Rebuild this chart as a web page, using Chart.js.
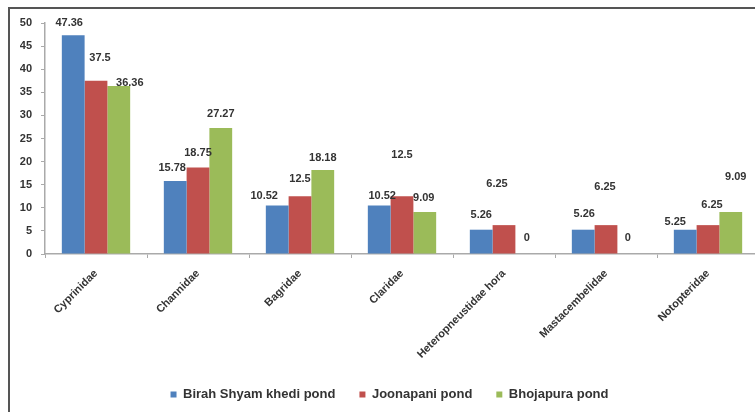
<!DOCTYPE html>
<html>
<head>
<meta charset="utf-8">
<script src="https://cdn.jsdelivr.net/npm/chart.js@4.4.1/dist/chart.umd.min.js"></script>
<style>
  body { margin: 0; background: #fff; }
  #wrap { position: relative; width: 755px; height: 412px; overflow: hidden; }
  #frame { position: absolute; left: 8px; top: 7px; width: 800px; height: 500px;
           border-left: 2px solid #555; border-top: 2px solid #555; pointer-events: none; }
  canvas { position: absolute; left: 0; top: 0; }
</style>
</head>
<body>
<div id="wrap">
  <canvas id="famChart" width="762" height="412"></canvas>
  <div id="frame"></div>
</div>
<script>
// families and percentage share in each pond
const families = ['Cyprinidae', 'Channidae', 'Bagridae', 'Claridae', 'Heteropneustidae hora', 'Mastacembelidae', 'Notopteridae'];
const birahValues = [47.36, 15.78, 10.52, 10.52, 5.26, 5.26, 5.25];
const joonapaniValues = [37.5, 18.75, 12.5, 12.5, 6.25, 6.25, 6.25];
const bhojapuraValues = [36.36, 27.27, 18.18, 9.09, 0, 0, 9.09];
const yTicks = [0, 5, 10, 15, 20, 25, 30, 35, 40, 45, 50];

// label nudges (px) so value labels sit like the original
const labelShift = [
  { dx: [-4, -3, -13, 3, 0, 1, -10], dy: [-12, -13, -9, -9, -15, -16, -8] },
  { dx: [4, 0, 0, 0, -7, -1, 4], dy: [-23, -14, -17, -41, -41, -38, -20] },
  { dx: [11, 0, 0, -1, 0, -1, 5], dy: [-3, -14, -12, -14, -16, -16, -35] }
];

const fontFam = "'Liberation Sans', Arial, sans-serif";
const textCol = '#333';
const axisCol = '#aaa';

const valueLabels = {
  id: 'valueLabels',
  afterDatasetsDraw(chart) {
    const ctx = chart.ctx;
    ctx.save();
    ctx.font = 'bold 11px ' + fontFam;
    ctx.fillStyle = textCol;
    ctx.textAlign = 'center';
    ctx.textBaseline = 'middle';
    chart.data.datasets.forEach((ds, i) => {
      chart.getDatasetMeta(i).data.forEach((bar, j) => {
        const s = labelShift[i];
        ctx.fillText(String(ds.data[j]), bar.x + s.dx[j], bar.y + s.dy[j]);
      });
    });
    ctx.restore();
  }
};

new Chart(document.getElementById('famChart'), {
  type: 'bar',
  data: {
    labels: families,
    datasets: [
      { label: 'Birah Shyam khedi pond', data: birahValues, backgroundColor: '#4F81BD' },
      { label: 'Joonapani pond', data: joonapaniValues, backgroundColor: '#C0504D' },
      { label: 'Bhojapura pond', data: bhojapuraValues, backgroundColor: '#9BBB59' }
    ]
  },
  options: {
    responsive: false,
    animation: false,
    layout: { padding: { top: 23, right: 3, bottom: 1, left: 20 } },
    datasets: { bar: { categoryPercentage: 0.67, barPercentage: 1 } },
    plugins: {
      tooltip: { enabled: false },
      legend: {
        position: 'bottom',
        labels: {
          boxWidth: 6, boxHeight: 6, padding: 24,
          color: textCol,
          font: { family: fontFam, size: 13, weight: 'bold' }
        }
      }
    },
    scales: {
      x: {
        afterFit(scale) { scale.height = 110; },
        grid: { drawOnChartArea: false, tickLength: 4, color: axisCol },
        border: { color: axisCol, width: 1.5 },
        ticks: {
          minRotation: 45, maxRotation: 45, padding: 9,
          color: textCol,
          font: { family: fontFam, size: 11, weight: 'bold' }
        }
      },
      y: {
        min: 0, max: 50,
        afterFit(scale) { scale.width = 25; },
        afterBuildTicks(scale) { scale.ticks = yTicks.map(v => ({ value: v })); },
        grid: { drawOnChartArea: false, tickLength: 4, color: axisCol },
        border: { color: axisCol, width: 1.5 },
        ticks: {
          padding: 9,
          color: textCol,
          font: { family: fontFam, size: 11, weight: 'bold' }
        }
      }
    }
  },
  plugins: [valueLabels]
});
</script>
</body>
</html>
